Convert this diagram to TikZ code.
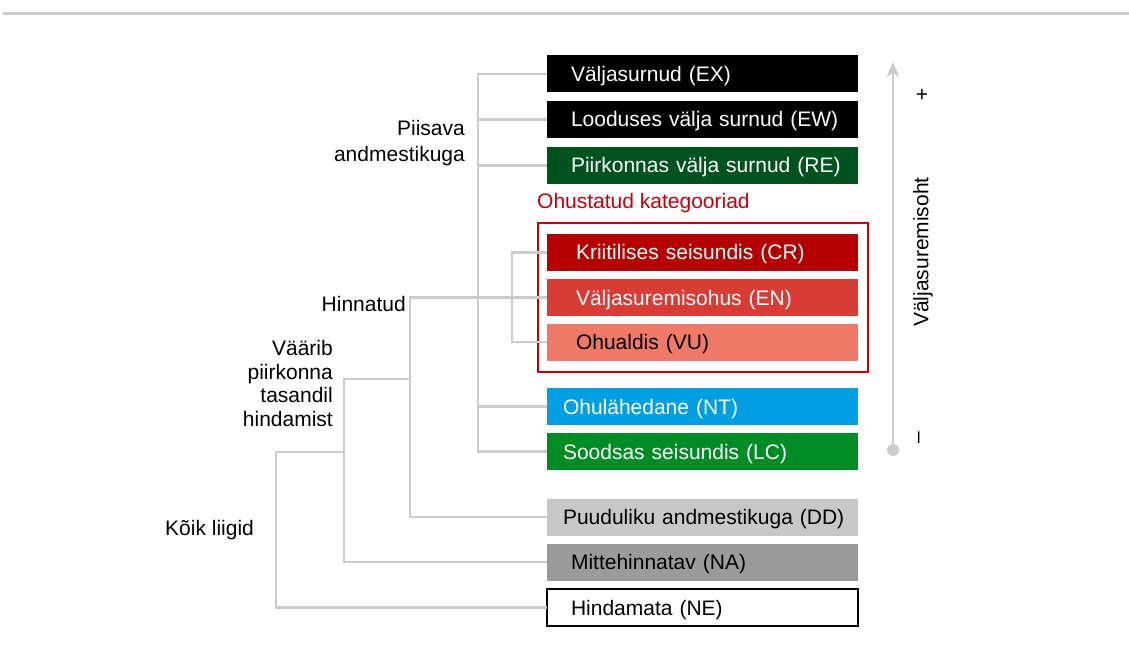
\documentclass[tikz,border=0pt]{standalone}
\usepackage{fontspec}
\setmainfont{Liberation Sans}
\usepackage{tikz}
\usetikzlibrary{arrows.meta,positioning,fit}

\definecolor{treegray}{HTML}{CCCCCC}
\definecolor{regreen}{HTML}{00521F}
\definecolor{crred}{HTML}{B40000}
\definecolor{enred}{HTML}{D83D35}
\definecolor{vusalmon}{HTML}{F07A68}
\definecolor{ntblue}{HTML}{009FE3}
\definecolor{lcgreen}{HTML}{008C24}
\definecolor{ddgray}{HTML}{C8C8C8}
\definecolor{nagray}{HTML}{9B9B9B}
\definecolor{threatred}{HTML}{C4000E}

\tikzset{
  catbox/.style={rectangle, anchor=west, minimum height=37pt, inner ysep=0pt,
    inner xsep=0pt, outer sep=0pt, text width=311pt, align=left,
    text height=17pt, text depth=2pt,
    execute at begin node=\hspace*{#1}},
  branch/.style={draw=treegray, line width=2.5pt},
  grouplabel/.style={inner sep=0pt, align=right},
}

\begin{document}
\begin{tikzpicture}[x=1pt, y=-1pt, font=\fontsize{21}{25}\selectfont]
  \useasboundingbox (0,0) rectangle (1129,652);
  \draw[treegray, line width=3pt] (3,13.5) -- (1129,13.5);

  % Categories
  \node[catbox=24pt, fill=black, text=white] (ex) at (547,74) {Väljasurnud (EX)};
  \node[catbox=24pt, fill=black, text=white] (ew) at (547,119.5) {Looduses välja surnud (EW)};
  \node[catbox=24pt, fill=regreen, text=white] (re) at (547,165.5) {Piirkonnas välja surnud (RE)};
  \node[catbox=29pt, fill=crred, text=white] (cr) at (547,252.5) {Kriitilises seisundis (CR)};
  \node[catbox=29pt, fill=enred, text=white] (en) at (547,297.5) {Väljasuremisohus (EN)};
  \node[catbox=29pt, fill=vusalmon] (vu) at (547,342) {Ohualdis (VU)};
  \node[catbox=16pt, fill=ntblue, text=white] (nt) at (547,406.5) {Ohulähedane (NT)};
  \node[catbox=16pt, fill=lcgreen, text=white] (lc) at (547,451.5) {Soodsas seisundis (LC)};
  \node[catbox=16pt, fill=ddgray] (dd) at (547,517) {Puuduliku andmestikuga (DD)};
  \node[catbox=24pt, fill=nagray] (na) at (547,562) {Mittehinnatav (NA)};
  \node[catbox=24pt, draw=black, line width=2pt, fill=white] (ne) at (547,607.5) {Hindamata (NE)};

  % Threatened frame
  \node[draw=threatred, line width=2pt, inner xsep=9.5pt, inner ysep=11pt, fit=(cr)(vu)] (threat) {};
  \node[anchor=base west, inner sep=0pt, text=threatred] (threatlabel) at (537,209) {Ohustatud kategooriad};

  % Tree
  \coordinate (piis) at (478,0);
  \coordinate (ohus) at (512,0);
  \coordinate (hinn) at (410,0);
  \coordinate (vaar) at (344,379);
  \coordinate (koik) at (276,452);
  \draw[branch] (ex.west) -- (ex.west -| piis) |- (lc.west);
  \foreach \n in {ew,re,nt}
    \draw[branch] (\n.west) -- (\n.west -| piis);
  \draw[branch] (cr.west) -- (cr.west -| ohus) |- (vu.west);
  \draw[branch] (en.west) -- (en.west -| hinn) |- (dd.west);
  \draw[branch] (na.west) -| (vaar) -- (vaar -| hinn);
  \draw[branch] (ne.west) -| (koik) -- (koik -| vaar);

  \node[grouplabel, anchor=north east, font=\fontsize{21}{26}\selectfont] (piisava) at (465,120) {Piisava\\andmestikuga};
  \node[grouplabel, anchor=base east] (hinnatud) at (406,311) {Hinnatud};
  \node[grouplabel, anchor=north east, font=\fontsize{21}{23.7}\selectfont] (vaarib) at (333,340) {Väärib\\piirkonna\\tasandil\\hindamist};
  \node[grouplabel, anchor=base west] (koiklabel) at (165,535) {Kõik liigid};

  % Risk axis
  \node[circle, fill=treegray, minimum size=12pt, inner sep=0pt] (low) at (893,450) {};
  \coordinate (high) at (893,62);
  \draw[treegray, line width=2.5pt, -{Stealth[length=15pt, width=13pt, inset=4pt]}] (low) -- (high);
  \node (plus) at (922,95) {+};
  \node[rotate=90] (minus) at (921,438) {–};
  \node[rotate=90] (risk) at (923,252) {Väljasuremisoht};
\end{tikzpicture}
\end{document}
